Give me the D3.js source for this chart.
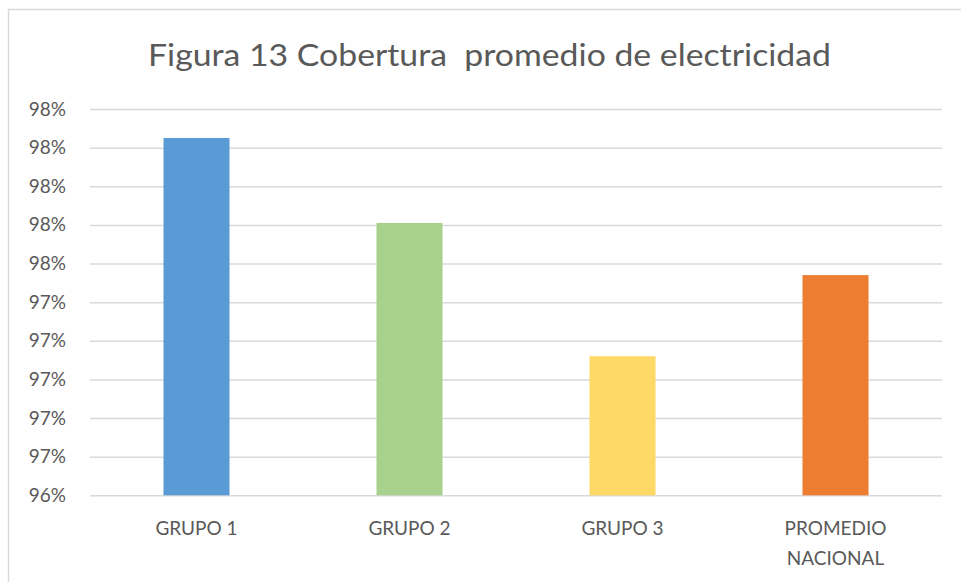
<!DOCTYPE html>
<html>
<head>
<meta charset="utf-8">
<script src="https://cdn.jsdelivr.net/npm/d3@7"></script>
<style>
  html, body { margin: 0; padding: 0; background: #ffffff; }
  svg { display: block; }
</style>
</head>
<body>
<svg id="chart" width="961" height="582"></svg>
<script>
// ---- Data ----
const categories = ["GRUPO 1", "GRUPO 2", "GRUPO 3", "PROMEDIO NACIONAL"];
const values = [0.9825, 0.9781, 0.9712, 0.9754];
const barColors = ["#5B9BD5", "#A9D18E", "#FFD966", "#ED7D31"];
const yTicks = [0.964, 0.966, 0.968, 0.970, 0.972, 0.974, 0.976, 0.978, 0.980, 0.982, 0.984];
const titleText = "Figura 13 Cobertura  promedio de electricidad";

// ---- Layout ----
const W = 961, H = 582;
const plot = { left: 90, right: 942, top: 109, bottom: 495.3 };
const font = "Lato, 'Open Sans', sans-serif";
const textColor = "#595959";

const svg = d3.select("#chart");

// chart frame
svg.append("rect")
  .attr("x", 8.5).attr("y", 9.5)
  .attr("width", W).attr("height", H)
  .attr("fill", "#ffffff")
  .attr("stroke", "#d9d9d9").attr("stroke-width", 1.5);

const x = d3.scaleBand()
  .domain(categories)
  .range([plot.left, plot.right])
  .paddingInner(0.69)
  .paddingOuter(0.345);

const y = d3.scaleLinear()
  .domain([yTicks[0], yTicks[yTicks.length - 1]])
  .range([plot.bottom, plot.top]);

// gridlines
const yAxis = d3.axisLeft(y)
  .tickValues(yTicks)
  .tickSize(-(plot.right - plot.left))
  .tickPadding(24)
  .tickFormat(d3.format(".0%"));

const gy = svg.append("g")
  .attr("transform", `translate(${plot.left},0)`)
  .call(yAxis);
gy.select(".domain").remove();
gy.selectAll(".tick line")
  .attr("stroke", "#d9d9d9").attr("stroke-width", 1.5);
gy.selectAll(".tick text")
  .attr("fill", textColor)
  .style("font-family", font)
  .style("font-size", "19px");

// bars
svg.append("g")
  .selectAll("rect")
  .data(categories)
  .join("rect")
  .attr("x", d => x(d))
  .attr("width", x.bandwidth())
  .attr("y", (d, i) => y(values[i]))
  .attr("height", (d, i) => y(yTicks[0]) - y(values[i]))
  .attr("fill", (d, i) => barColors[i]);

// x axis labels (wrapped)
const xLab = svg.append("g");
categories.forEach((c, i) => {
  const words = c.split(" ");
  const lines = words.length > 2 ? [words.slice(0, 2).join(" "), words.slice(2).join(" ")]
               : (c.startsWith("PROMEDIO") ? [words[0], words.slice(1).join(" ")] : [c]);
  const t = xLab.append("text")
    .attr("x", x(c) + x.bandwidth() / 2)
    .attr("y", 535)
    .attr("text-anchor", "middle")
    .attr("fill", textColor)
    .style("font-family", font)
    .style("font-size", "19px");
  lines.forEach((ln, j) => {
    t.append("tspan")
      .attr("x", x(c) + x.bandwidth() / 2)
      .attr("y", 535 + j * 30)
      .text(ln);
  });
});

// title
svg.append("text")
  .attr("x", 148)
  .attr("y", 66)
  .attr("fill", textColor)
  .attr("textLength", 683)
  .attr("lengthAdjust", "spacingAndGlyphs")
  .style("font-family", font)
  .style("font-size", "31px")
  .style("white-space", "pre")
  .text(titleText);
</script>
</body>
</html>
